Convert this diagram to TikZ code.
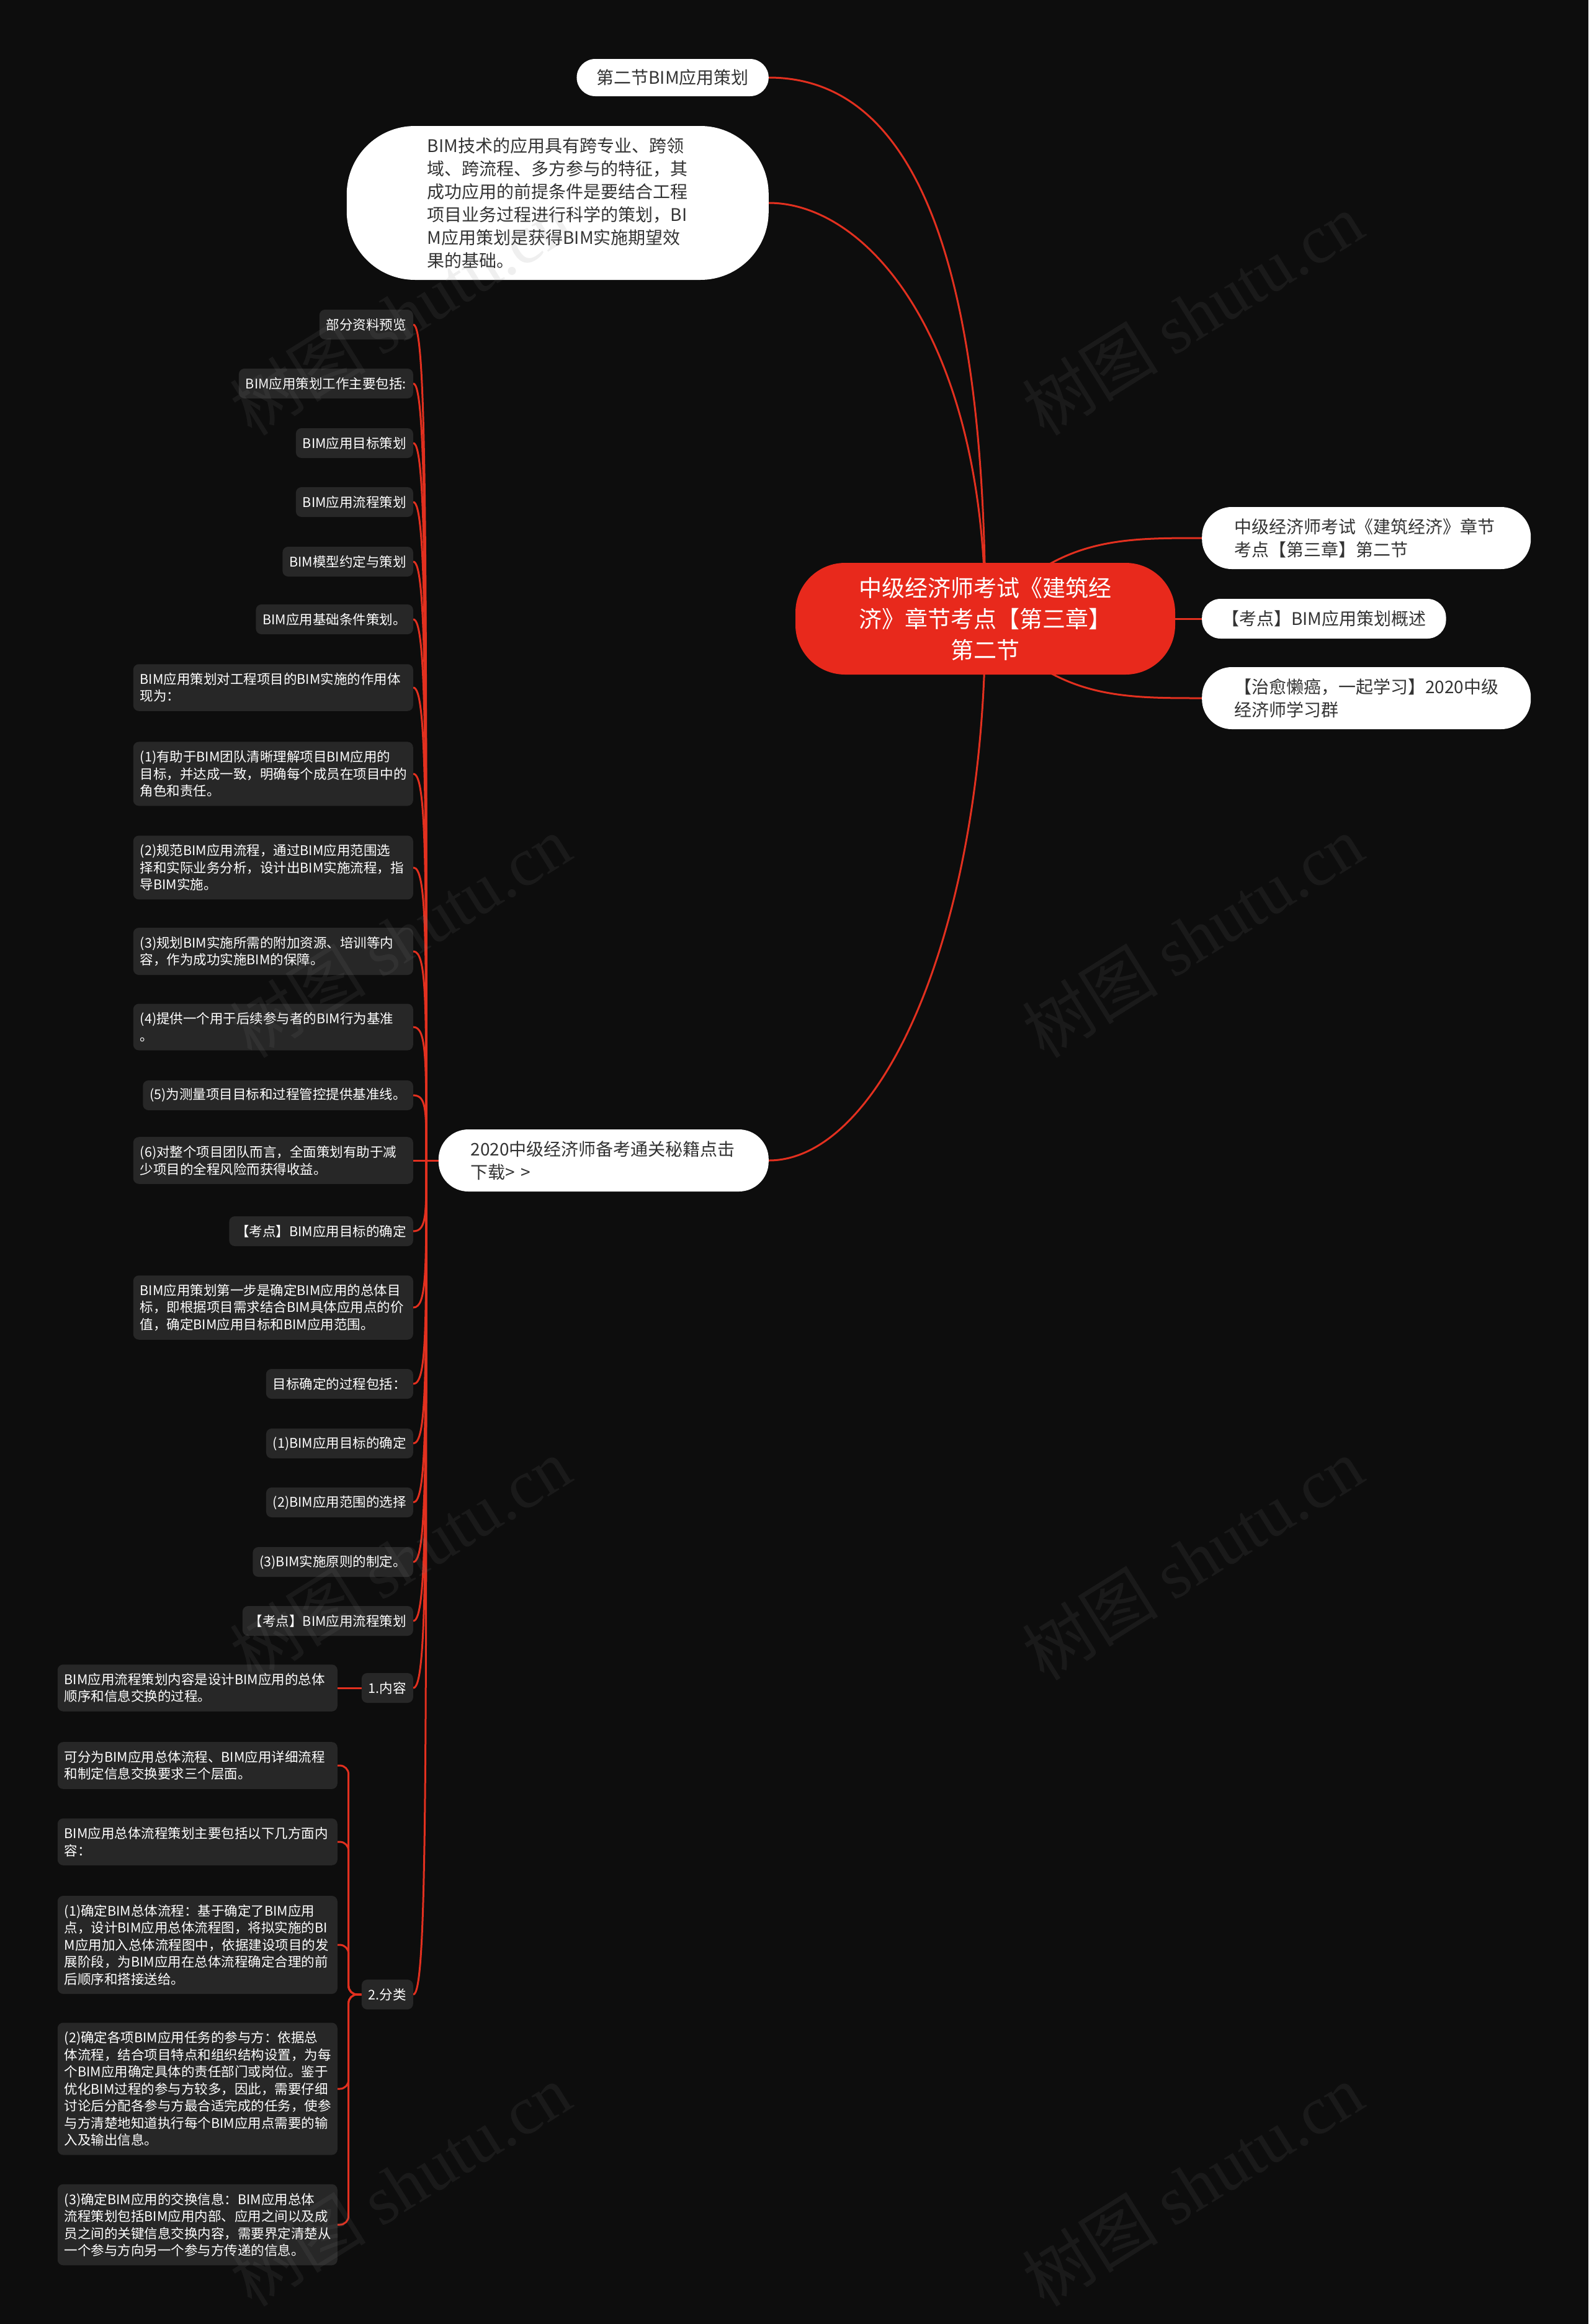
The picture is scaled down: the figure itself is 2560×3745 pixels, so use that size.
\documentclass[tikz,border=0pt]{standalone}
\usepackage{fontspec}
\setmainfont{Noto Sans CJK SC}
\newfontfamily\wmfont{Liberation Serif}
\usepackage{tikz}
\usetikzlibrary{calc, backgrounds}
\usepackage{xcolor}
\definecolor{bgdark}{HTML}{0D0D0D}
\definecolor{mapred}{HTML}{E8291C}
\definecolor{linkred}{HTML}{E2301F}
\definecolor{leafgray}{HTML}{272727}
\definecolor{inkgray}{HTML}{333333}
\definecolor{wmgray}{HTML}{808080}

\begin{document}
\begin{tikzpicture}[x=1pt, y=-1pt,
    branch/.style={linkred, line width=3pt},
    pill/.style={fill=white, text=inkgray, rounded corners=30pt, inner xsep=32pt, minimum height=60pt, font=\fontsize{28}{37}\selectfont},
    widepill/.style={pill, rounded corners=48pt, minimum height=100pt, inner xsep=52pt, text width=426pt, align=left},
    leaf/.style={fill=leafgray, text=white, rounded corners=9pt, inner xsep=11pt, minimum height=48pt, anchor=east, font=\fontsize{21.5}{27.5}\selectfont},
    wideleaf/.style={leaf, text width=429pt, align=left, inner ysep=14pt},
    wmtext/.style={rotate=32, text=wmgray, text opacity=0.12, font=\fontsize{110}{110}\selectfont}]
    \useasboundingbox (0,0) rectangle (2560,3745);

    \node (root) at (1588,997) [fill=mapred, text=white, rounded corners=80pt, minimum width=612pt, minimum height=180pt, align=center, font=\fontsize{37}{50}\selectfont] {中级经济师考试《建筑经\\济》章节考点【第三章】\\第二节};

    \node (sec) at (1239,125) [pill, anchor=east] {第二节BIM应用策划};
    \node (intro) at (1239,327) [pill, anchor=east, rounded corners=110pt, text width=420pt, align=left, inner xsep=130pt, minimum height=248pt] {BIM技术的应用具有跨专业、跨领\\域、跨流程、多方参与的特征，其\\成功应用的前提条件是要结合工程\\项目业务过程进行科学的策划，BI\\M应用策划是获得BIM实施期望效\\果的基础。};
    \node (cta) at (1239,1870) [widepill, anchor=east, text width=428pt] {2020中级经济师备考通关秘籍点击\\下载> >};

    \node (exam) at (1937,867) [widepill, anchor=west] {中级经济师考试《建筑经济》章节\\考点【第三章】第二节};
    \node (gist) at (1937,997) [pill, anchor=west, minimum height=64pt] {【考点】BIM应用策划概述};
    \node (group) at (1937,1125) [widepill, anchor=west] {【治愈懒癌，一起学习】2020中级\\经济师学习群};

    \node (l1) at (666,523) [leaf] {部分资料预览};
    \node (l2) at (666,618) [leaf] {BIM应用策划工作主要包括:};
    \node (l3) at (666,714) [leaf] {BIM应用目标策划};
    \node (l4) at (666,809) [leaf] {BIM应用流程策划};
    \node (l5) at (666,905) [leaf] {BIM模型约定与策划};
    \node (l6) at (666,998) [leaf] {BIM应用基础条件策划。};
    \node (l7) at (666,1108) [wideleaf] {BIM应用策划对工程项目的BIM实施的作用体\\现为：};
    \node (l8) at (666,1247) [wideleaf] {(1)有助于BIM团队清晰理解项目BIM应用的\\目标，并达成一致，明确每个成员在项目中的\\角色和责任。};
    \node (l9) at (666,1398) [wideleaf] {(2)规范BIM应用流程，通过BIM应用范围选\\择和实际业务分析，设计出BIM实施流程，指\\导BIM实施。};
    \node (l10) at (666,1533) [wideleaf] {(3)规划BIM实施所需的附加资源、培训等内\\容，作为成功实施BIM的保障。};
    \node (l11) at (666,1655) [wideleaf] {(4)提供一个用于后续参与者的BIM行为基准\\。};
    \node (l12) at (666,1765) [leaf] {(5)为测量项目目标和过程管控提供基准线。};
    \node (l13) at (666,1870) [wideleaf] {(6)对整个项目团队而言，全面策划有助于减\\少项目的全程风险而获得收益。};
    \node (l14) at (666,1984) [leaf] {【考点】BIM应用目标的确定};
    \node (l15) at (666,2107) [wideleaf] {BIM应用策划第一步是确定BIM应用的总体目\\标，即根据项目需求结合BIM具体应用点的价\\值，确定BIM应用目标和BIM应用范围。};
    \node (l16) at (666,2230) [leaf] {目标确定的过程包括：};
    \node (l17) at (666,2326) [leaf] {(1)BIM应用目标的确定};
    \node (l18) at (666,2421) [leaf] {(2)BIM应用范围的选择};
    \node (l19) at (666,2517) [leaf] {(3)BIM实施原则的制定。};
    \node (l20) at (666,2612) [leaf] {【考点】BIM应用流程策划};
    \node (l21) at (666,2720) [leaf] {1.内容};
    \node (l22) at (666,3214) [leaf] {2.分类};

    \node (s1) at (544,2720) [wideleaf] {BIM应用流程策划内容是设计BIM应用的总体\\顺序和信息交换的过程。};
    \node (s2) at (544,2845) [wideleaf] {可分为BIM应用总体流程、BIM应用详细流程\\和制定信息交换要求三个层面。};
    \node (s3) at (544,2968) [wideleaf] {BIM应用总体流程策划主要包括以下几方面内\\容：};
    \node (s4) at (544,3134) [wideleaf] {(1)确定BIM总体流程：基于确定了BIM应用\\点，设计BIM应用总体流程图，将拟实施的BI\\M应用加入总体流程图中，依据建设项目的发\\展阶段，为BIM应用在总体流程确定合理的前\\后顺序和搭接送给。};
    \node (s5) at (544,3366) [wideleaf] {(2)确定各项BIM应用任务的参与方：依据总\\体流程，结合项目特点和组织结构设置，为每\\个BIM应用确定具体的责任部门或岗位。鉴于\\优化BIM过程的参与方较多，因此，需要仔细\\讨论后分配各参与方最合适完成的任务，使参\\与方清楚地知道执行每个BIM应用点需要的输\\入及输出信息。};
    \node (s6) at (544,3585) [wideleaf] {(3)确定BIM应用的交换信息：BIM应用总体\\流程策划包括BIM应用内部、应用之间以及成\\员之间的关键信息交换内容，需要界定清楚从\\一个参与方向另一个参与方传递的信息。};

    \foreach \wx in {645,1922}
        \foreach \wy in {506,1509,2512,3521}
            \node (wm-\wx-\wy) at (\wx,\wy) [wmtext] {树图 {\wmfont shutu.cn}};

    \begin{scope}[on background layer]
        \fill[bgdark] (0,0) rectangle (2560,3745);

        \draw[branch] (root.center) .. controls (1588,300) and (1420,125) .. (sec.east);
        \draw[branch] (root.center) .. controls (1588,550) and (1400,327) .. (intro.east);
        \draw[branch] (root.center) .. controls (1588,1500) and (1420,1870) .. (cta.east);
        \draw[branch] (root.center) .. controls (1700,867) and (1800,867) .. (exam.west);
        \draw[branch] (root.center) -- (gist.west);
        \draw[branch] (root.center) .. controls (1700,1125) and (1800,1125) .. (group.west);

        \coordinate (hub) at (687,1870);
        \draw[branch] (cta.west) -- (hub);
        \foreach \i in {1,...,22}
            \draw[branch] (hub) .. controls ($(hub)!.75!(hub |- l\i.east)$) and +(22,0) .. (l\i.east);

        \draw[branch] (s1.east) -- (l21.west);
        \foreach \i in {2,...,6}
            \draw[branch, rounded corners=14pt] (l22.west) -- ++(-21,0) |- (s\i.east);
    \end{scope}
\end{tikzpicture}
\end{document}
